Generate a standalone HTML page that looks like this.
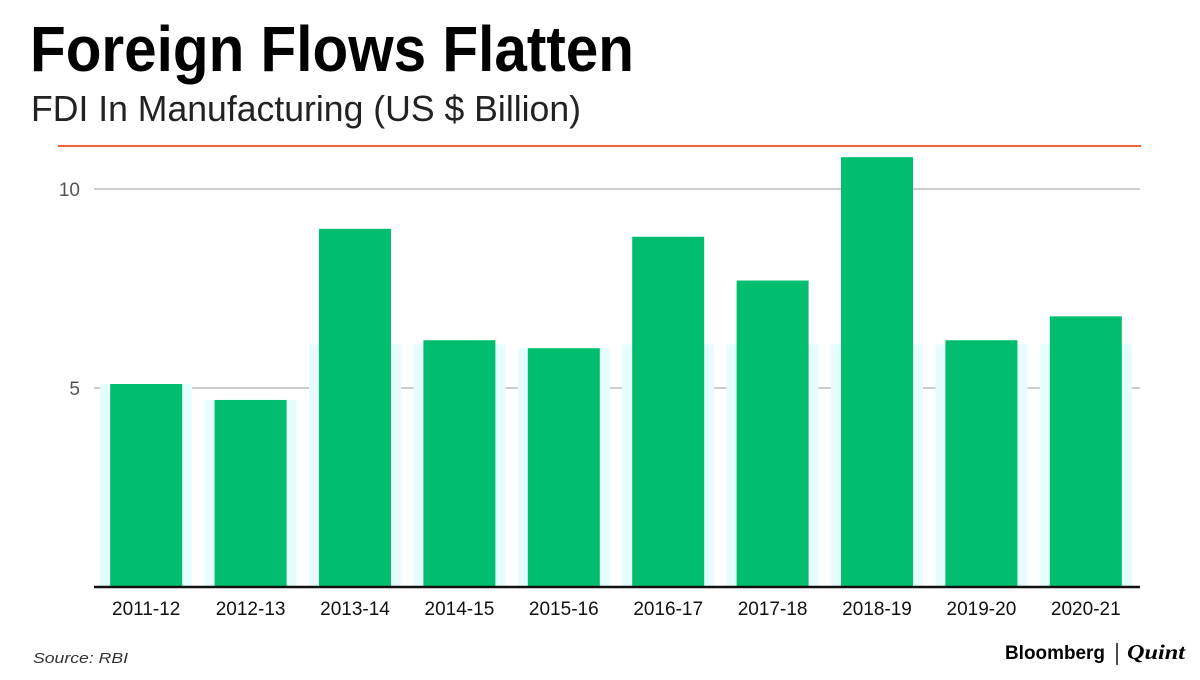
<!DOCTYPE html>
<html><head><meta charset="utf-8"><style>
body{margin:0;background:#fff;width:1200px;height:675px;overflow:hidden}
svg text{font-family:"Liberation Sans",sans-serif}
</style></head><body>
<svg id="c" width="1200" height="675">
<text x="30" y="71" font-size="64" font-weight="bold" textLength="604" lengthAdjust="spacingAndGlyphs">Foreign Flows Flatten</text>
<text x="31" y="121" font-size="36" textLength="550" lengthAdjust="spacingAndGlyphs" fill="#222">FDI In Manufacturing (US $ Billion)</text>
<line x1="58" y1="146" x2="1141" y2="146" stroke="#f4623a" stroke-width="2"/>
<g id="grid"></g><g id="bars"></g><g id="xl"></g>
<line x1="94" y1="587" x2="1140" y2="587" stroke="#111" stroke-width="2.5"/>
<text x="33" y="663" font-size="15" font-style="italic" fill="#333" textLength="95" lengthAdjust="spacingAndGlyphs">Source: RBI</text>
<text x="1005" y="659" font-size="19" font-weight="bold" textLength="100" lengthAdjust="spacingAndGlyphs">Bloomberg</text>
<line x1="1117" y1="643" x2="1117" y2="665" stroke="#111" stroke-width="1.5"/>
<text x="1127" y="659" font-size="21" font-style="italic" font-weight="bold" font-family="Liberation Serif,serif" style="font-family:'Liberation Serif',serif" textLength="58" lengthAdjust="spacingAndGlyphs">Quint</text>
</svg>
<script>
const categories=["2011-12","2012-13","2013-14","2014-15","2015-16","2016-17","2017-18","2018-19","2019-20","2020-21"];
const values=[5.1,4.7,9.0,6.2,6.0,8.8,7.7,10.8,6.2,6.8];
const yTicks=[5,10];
const NS="http://www.w3.org/2000/svg";
const x0=94,x1=1138,y0=587,pxPer=39.8;
const band=(x1-x0)/categories.length;
const y=v=>y0-v*pxPer;
const cx=i=>x0+band*(i+0.5);
function mk(tag,attrs,parent){const e=document.createElementNS(NS,tag);for(const k in attrs)e.setAttribute(k,attrs[k]);parent.appendChild(e);return e;}
const grid=document.getElementById('grid'),bars=document.getElementById('bars'),xl=document.getElementById('xl');
yTicks.forEach(t=>{
  const l=mk('line',{x1:94,x2:1140,y1:y(t),y2:y(t),stroke:'#bbb','stroke-width':1.5},grid);
  
  
  const tx=mk('text',{x:80,y:y(t)+7,'font-size':19,fill:'#555','text-anchor':'end'},grid);
  tx.textContent=t;
  
  
});
categories.forEach((c,i)=>{
  const bg=mk('rect',{x:cx(i)-46,y:y(Math.min(values[i],6.1)),width:92,height:y0-y(Math.min(values[i],6.1)),fill:'#e6fdfd'},bars);
  
  
  const r=mk('rect',{x:cx(i)-36,y:y(values[i]),width:72,height:y0-y(values[i]),fill:'#00be6e'},bars);
  
  
  const t=mk('text',{x:cx(i),y:615,'font-size':19,fill:'#111','text-anchor':'middle'},xl);
  t.textContent=c;
  
  
});
</script>
</body></html>
